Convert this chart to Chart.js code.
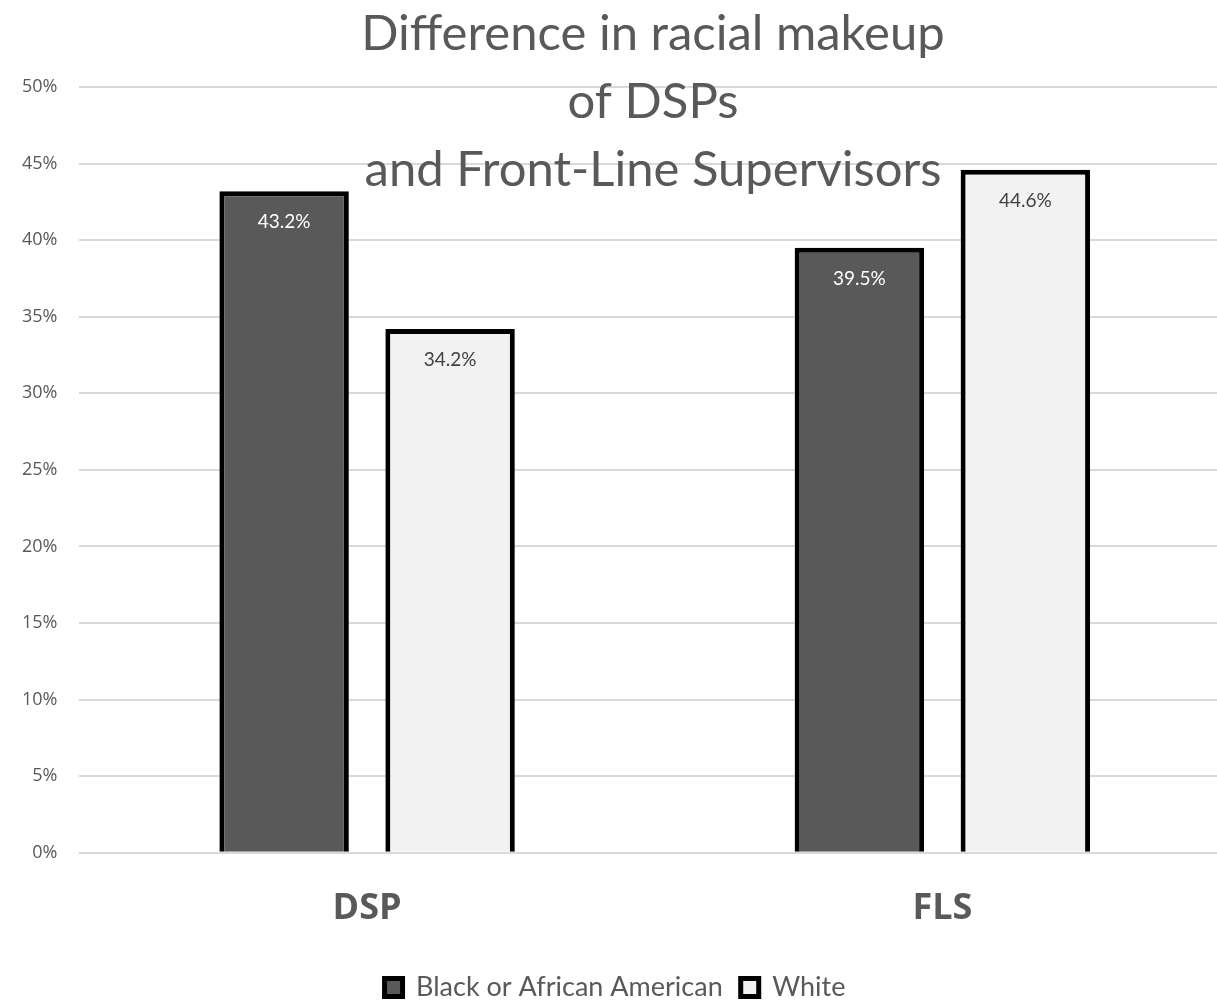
<!DOCTYPE html>
<html>
<head>
<meta charset="utf-8">
<script src="https://cdn.jsdelivr.net/npm/chart.js@4.4.1/dist/chart.umd.min.js"></script>
<style>
  html, body { margin: 0; padding: 0; background: #fff; overflow: hidden; }
  #wrap { position: relative; width: 1230px; height: 1001px; }
</style>
</head>
<body>
<div id="wrap"><canvas id="grafico"></canvas></div>
<script>
const categorias = ['DSP', 'FLS'];
const negros = [43.2, 39.5];
const brancos = [34.2, 44.6];
const tituloLinhas = ['Difference in racial makeup', 'of DSPs', 'and Front-Line Supervisors'];

const cinza = '#595959';

// rótulos dentro das barras
const rotulos = {
    id: 'rotulos',
    afterDatasetsDraw(chart) {
        const ctx = chart.ctx;
        ctx.save();
        ctx.font = '19px Lato';
        ctx.textAlign = 'center';
        ctx.textBaseline = 'middle';
        chart.data.datasets.forEach((ds, i) => {
            chart.getDatasetMeta(i).data.forEach((bar, j) => {
                ctx.fillStyle = i === 0 ? '#ffffff' : '#404040';
                ctx.fillText(ds.data[j].toFixed(1) + '%', bar.x, bar.y + 31);
            });
        });
        ctx.restore();
    }
};

// título por cima da área do gráfico
const titulo = {
    id: 'titulo',
    afterDraw(chart) {
        const ctx = chart.ctx;
        ctx.save();
        ctx.font = '49px Lato';
        ctx.fillStyle = cinza;
        ctx.textAlign = 'center';
        ctx.textBaseline = 'alphabetic';
        tituloLinhas.forEach((linha, i) => {
            ctx.fillText(linha, 653, 50 + i * 68);
        });
        ctx.restore();
    }
};

const ctx = document.getElementById('grafico');

new Chart(ctx, {
    type: 'bar',
    data: {
        labels: categorias,
        datasets: [
            {
                label: 'Black or African American',
                data: negros,
                backgroundColor: cinza,
                borderColor: '#000000',
                borderWidth: 5,
                borderSkipped: 'bottom'
            },
            {
                label: 'White',
                data: brancos,
                backgroundColor: '#f2f2f2',
                borderColor: '#000000',
                borderWidth: 5,
                borderSkipped: 'bottom'
            }
        ]
    },
    options: {
        responsive: true,
        maintainAspectRatio: false,
        animation: false,
        categoryPercentage: 0.577,
        barPercentage: 0.78,
        layout: { padding: { top: 87, left: 0, right: 0, bottom: -10 } },
        plugins: {
            title: { display: false },
            tooltip: { enabled: false },
            legend: {
                position: 'bottom',
                labels: {
                    boxWidth: 18,
                    boxHeight: 18,
                    color: cinza,
                    font: { family: 'Lato', size: 27 },
                    padding: 18
                }
            }
        },
        scales: {
            x: {
                grid: { display: false },
                border: { display: false },
                ticks: {
                    color: cinza,
                    font: { family: 'Open Sans', size: 36, weight: 'bold' },
                    padding: 26
                }
            },
            y: {
                min: 0,
                max: 50,
                grid: { color: '#d9d9d9', lineWidth: 2, drawTicks: false },
                border: { display: false },
                ticks: {
                    stepSize: 5,
                    color: cinza,
                    font: { family: 'Open Sans', size: 18 },
                    padding: 22,
                    callback: v => v + '%'
                }
            }
        }
    },
    plugins: [rotulos, titulo]
});
</script>
</body>
</html>
